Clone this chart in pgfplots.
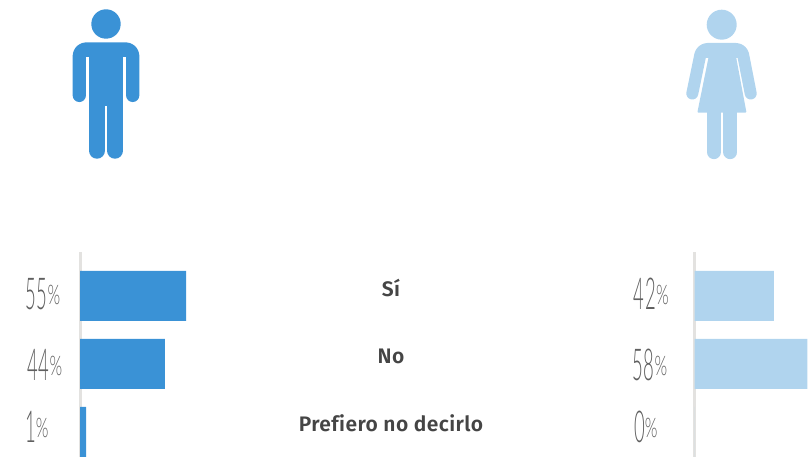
\documentclass[border=0pt]{standalone}
\usepackage{pgfplots}
\pgfplotsset{compat=1.18}
\usepackage{fontspec}
\setmainfont{Fira Sans}
\newfontfamily\catfont[LetterSpace=2,BoldFont={Fira Sans SemiBold},Ligatures=NoCommon]{Fira Sans}
\newfontfamily\digitfont[FakeStretch=0.42,LetterSpace=2]{Lato Light}
\newfontfamily\pctfont[FakeStretch=0.6]{Lato Light}
\definecolor{mblue}{HTML}{3A92D6}
\definecolor{lblue}{HTML}{B0D4EE}
\definecolor{spine}{HTML}{E3E2E0}
\definecolor{pctgray}{HTML}{606060}
\definecolor{cat}{HTML}{454545}
\newcommand{\pct}[1]{{\fontsize{44}{44}\digitfont #1}\raisebox{5pt}{\fontsize{27}{27}\pctfont\%}}
\pgfplotsset{barax/.style={
  scale only axis, height=205pt, anchor=south west,
  xmin=0, ymin=-0.647, ymax=2.368, y dir=reverse,
  axis y line=left, axis x line=none, y axis line style={spine, line width=3pt, -},
  ytick=\empty, xtick=\empty, xbar, bar shift=0pt, bar width=50pt, clip=true
}}
\begin{document}
\begin{tikzpicture}[x=1pt,y=1pt]
\path[use as bounding box] (0,0) rectangle (811,457);
\begin{axis}[barax, at={(80pt,0pt)}, width=130pt, xmax=67.4]
\addplot[fill=mblue, draw=none] coordinates {(55,0) (44,1) (3.2,2)};
\end{axis}
\begin{axis}[barax, at={(694.5pt,0pt)}, width=116.5pt, xmax=59.8]
\addplot[fill=lblue, draw=none] coordinates {(40.7,0) (58,1) (0,2)};
\end{axis}
% labels
\begin{scope}[shift={(0,457)}, y=-1pt]
\node[pctgray, anchor=base west, inner sep=0] at (25,310) {\pct{55}};
\node[pctgray, anchor=base west, inner sep=0] at (27,381) {\pct{44}};
\node[pctgray, anchor=base west, inner sep=0] at (25,443) {\pct{1}};
\node[pctgray, anchor=base west, inner sep=0] at (633.5,310) {\pct{42}};
\node[pctgray, anchor=base west, inner sep=0] at (632,381) {\pct{58}};
\node[pctgray, anchor=base west, inner sep=0] at (634,443) {\pct{0}};
\node[cat, font=\fontsize{21}{21}\catfont\bfseries, anchor=base] at (391,297) {Sí};
\node[cat, font=\fontsize{21}{21}\catfont\bfseries, anchor=base] at (391,364) {No};
\node[cat, font=\fontsize{21}{21}\catfont\bfseries, anchor=base] at (391,432) {Prefiero no decirlo};
% man
\fill[mblue] (106,24) circle[radius=14.7pt];
\draw[mblue, line width=13.3pt, line cap=round, line join=round, rounded corners=7pt] (79.3,95.4)--(79.3,49)--(132.7,49)--(132.7,95.4);
\fill[mblue] (86,45) rectangle (126,57);
\fill[mblue] (89.3,45) rectangle (123.3,106);
\draw[mblue, line width=16.5pt, line cap=round] (96.9,100)--(96.9,150.5);
\draw[mblue, line width=16.5pt, line cap=round] (115,100)--(115,150.5);
% woman
\fill[lblue] (721.7,24.7) circle[radius=15pt];
\draw[lblue, line width=12pt, line cap=round, line join=round, rounded corners=6pt] (692.3,93.5)--(701.5,49)--(742,49)--(750.7,93.5);
\fill[lblue] (706,45) rectangle (738,58);
\fill[lblue, rounded corners=1pt] (709,55)--(735.7,55)--(746.5,112.7)--(697.3,112.7)--cycle;
\draw[lblue, line width=14.3pt, line cap=round] (713.8,108)--(713.8,152);
\draw[lblue, line width=14.3pt, line cap=round] (730.3,108)--(730.3,152);
\end{scope}
\end{tikzpicture}
\end{document}
